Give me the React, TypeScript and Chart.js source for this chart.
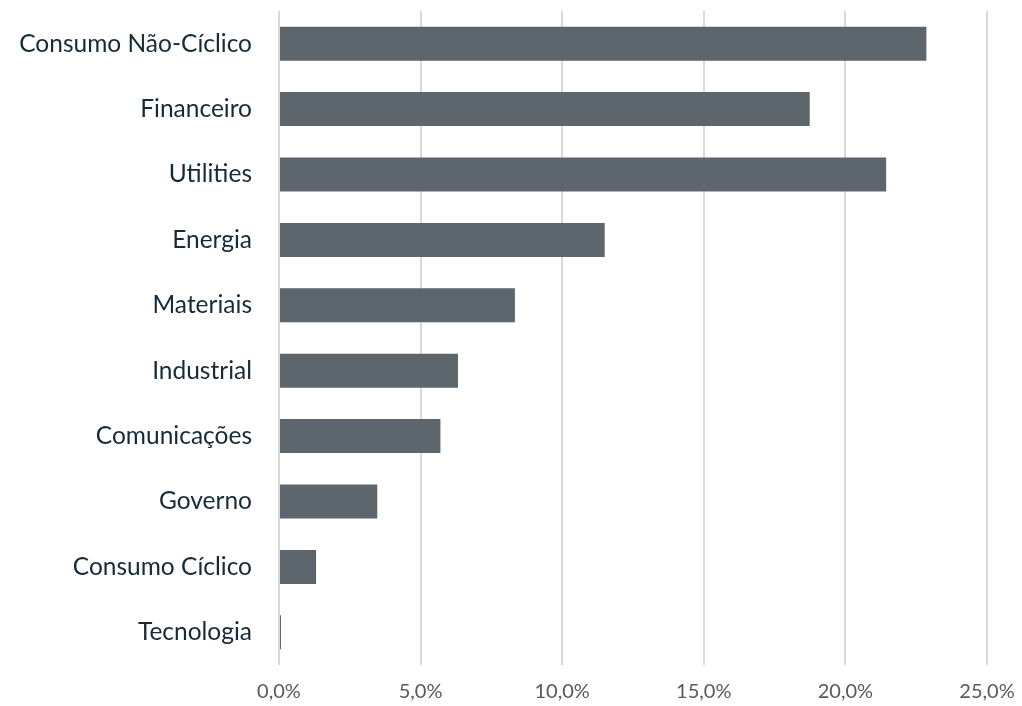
import React, { useEffect, useRef } from "react";
import { Chart, registerables } from "chart.js";

Chart.register(...registerables);

const categories = [
  "Consumo Não-Cíclico",
  "Financeiro",
  "Utilities",
  "Energia",
  "Materiais",
  "Industrial",
  "Comunicações",
  "Governo",
  "Consumo Cíclico",
  "Tecnologia",
];
const values = [22.86, 18.74, 21.44, 11.5, 8.33, 6.32, 5.7, 3.47, 1.31, 0.07];
const xTicks = [0, 5, 10, 15, 20, 25];

const zeroPad = (s: any) => {
  s.paddingTop = 0;
  s.paddingBottom = 0;
  s.paddingLeft = 0;
  s.paddingRight = 0;
};

export default function App() {
  const ref = useRef<HTMLCanvasElement>(null);
  useEffect(() => {
    document.body.style.margin = "0";
    const chart = new Chart(ref.current!, {
      type: "bar",
      data: {
        labels: categories,
        datasets: [
          {
            data: values,
            backgroundColor: "#5c666c",
            borderWidth: 0,
            categoryPercentage: 1,
            barPercentage: 0.52,
          },
        ],
      },
      options: {
        indexAxis: "y",
        animation: false,
        responsive: false,
        layout: { autoPadding: false, padding: { top: 11, right: 35, left: 0, bottom: 0 } },
        plugins: { legend: { display: false }, tooltip: { enabled: false } },
        scales: {
          x: {
            min: 0,
            max: 25,
            afterBuildTicks: (s: any) => {
              s.ticks = xTicks.map((v) => ({ value: v }));
            },
            afterFit: (s: any) => {
              s.height = 41;
              zeroPad(s);
            },
            grid: { color: "#d9d9d9", lineWidth: 2, drawTicks: false },
            border: { display: false },
            ticks: {
              padding: 15,
              color: "#595959",
              font: { family: "Lato", size: 20 },
              callback: (v: any) => Number(v).toFixed(1).replace(".", ",") + "%",
            },
          },
          y: {
            afterFit: (s: any) => {
              s.width = 279;
              zeroPad(s);
            },
            grid: { display: false, drawTicks: false },
            border: { display: false },
            ticks: {
              padding: 27,
              color: "#172a38",
              font: { family: "Lato", size: 24.5 },
            },
          },
        },
      },
    });
    return () => chart.destroy();
  }, []);
  return <canvas ref={ref} width={1022} height={706} style={{ display: "block" }} />;
}
